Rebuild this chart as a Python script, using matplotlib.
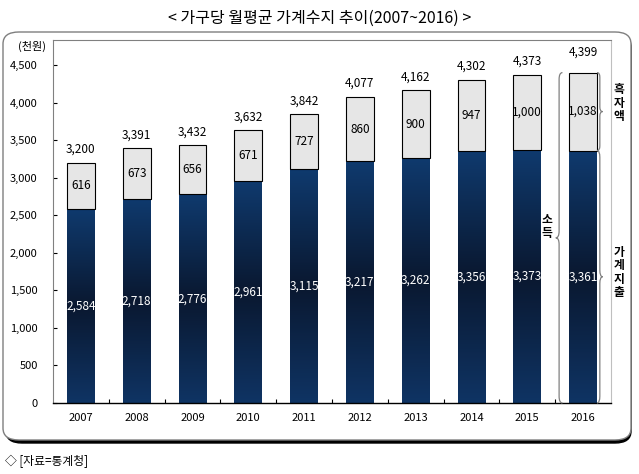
import matplotlib
matplotlib.use("Agg")
import matplotlib.pyplot as plt
import numpy as np
from matplotlib.colors import LinearSegmentedColormap
from matplotlib.patches import FancyBboxPatch, Rectangle
from matplotlib.path import Path
from matplotlib.patches import PathPatch

plt.rcParams["font.family"] = ["Liberation Sans Narrow", "Noto Sans CJK KR", "DejaVu Sans"]

years = ["2007", "2008", "2009", "2010", "2011", "2012", "2013", "2014", "2015", "2016"]
expense = [2584, 2718, 2776, 2961, 3115, 3217, 3262, 3356, 3373, 3361]
surplus = [616, 673, 656, 671, 727, 860, 900, 947, 1000, 1038]
income = [3200, 3391, 3432, 3632, 3842, 4077, 4162, 4302, 4373, 4399]

title = "< 가구당 월평균 가계수지 추이(2007~2016) >"
unit = "(천원)"
source = "◇ [자료=통계청]"

W, H = 639, 474
fig = plt.figure(figsize=(W / 100, H / 100), dpi=100)


def fx(px):
    return px / W


def fy(py):
    return 1 - py / H


# rounded frame with shadow on right/bottom
shadow = FancyBboxPatch((fx(6), fy(443)), fx(631) - fx(6), fy(35) - fy(443),
                        boxstyle="round,pad=0,rounding_size=0.025",
                        transform=fig.transFigure, fc="black", ec="black", lw=1,
                        zorder=-3)
frame = FancyBboxPatch((fx(3), fy(440)), fx(631) - fx(3), fy(32) - fy(440),
                       boxstyle="round,pad=0,rounding_size=0.025",
                       transform=fig.transFigure, fc="white", ec="#7f7f7f", lw=1,
                       zorder=-2)
fig.patches.extend([shadow, frame])

ax = fig.add_axes([fx(53), fy(403), fx(611) - fx(53), fy(40) - fy(403)])
ax.set_facecolor("none")

x = np.arange(len(years))
width = 0.5
grad = LinearSegmentedColormap.from_list(
    "navy", [(0, "#0f3464"), (0.5, "#0a1830"), (1, "#0f3a6e")])
g = np.linspace(0, 1, 256).reshape(-1, 1)

for i in range(len(years)):
    clip = Rectangle((x[i] - width / 2, 0), width, expense[i],
                     fc="none", ec="none")
    ax.add_patch(clip)
    im = ax.imshow(g, cmap=grad, origin="lower", aspect="auto",
                   extent=[x[i] - width / 2, x[i] + width / 2, 0, expense[i]],
                   zorder=2)
    im.set_clip_path(clip)

ax.bar(x, surplus, width, bottom=expense, color="#e6e6e6",
       edgecolor="black", linewidth=0.8, zorder=3)

for i in range(len(years)):
    ax.text(x[i], expense[i] / 2, f"{expense[i]:,}", ha="center", va="center",
            color="white", fontsize=8.5, zorder=4)
    ax.text(x[i], expense[i] + surplus[i] / 2, f"{surplus[i]:,}", ha="center",
            va="center", color="black", fontsize=8.5, zorder=4)
    off = 10 if i == len(years) - 1 else 5
    ax.annotate(f"{income[i]:,}", (x[i], income[i]), xytext=(0, off),
                textcoords="offset points", ha="center", va="bottom",
                fontsize=8.5, zorder=4)


def brace(ax, xa, xt, y0, y1, r=90, **kw):
    xm = (xa + xt) / 2
    ym = (y0 + y1) / 2
    verts = [(xa, y1), (xm, y1), (xm, y1 - r),
             (xm, ym + r), (xm, ym), (xt, ym),
             (xm, ym), (xm, ym - r),
             (xm, y0 + r), (xm, y0), (xa, y0)]
    codes = [Path.MOVETO, Path.CURVE3, Path.CURVE3,
             Path.LINETO, Path.CURVE3, Path.CURVE3,
             Path.CURVE3, Path.CURVE3,
             Path.LINETO, Path.CURVE3, Path.CURVE3]
    ax.add_patch(PathPatch(Path(verts, codes), fc="none", clip_on=False, **kw))


last = len(years) - 1
bl = x[last] - width / 2
br = x[last] + width / 2
bkw = dict(ec="#808080", lw=0.9, zorder=5)
brace(ax, bl - 0.12, bl - 0.24, 0, income[last], **bkw)
brace(ax, br + 0.0, br + 0.10, expense[last], income[last], r=60, **bkw)
brace(ax, br + 0.0, br + 0.10, 0, expense[last], **bkw)

vkw = dict(ha="center", va="center", fontsize=8.5, fontweight="bold",
           linespacing=1.05, family=["Noto Sans CJK KR", "DejaVu Sans"])
ax.annotate("소\n득", (bl - 0.40, income[last] / 2), xytext=(0, 8),
            textcoords="offset points", annotation_clip=False, **vkw)
ax.annotate("흑\n자\n액", (br + 0.40, expense[last] + surplus[last] / 2),
            xytext=(0, 6), textcoords="offset points", annotation_clip=False, **vkw)
ax.annotate("가\n계\n지\n출", (br + 0.40, expense[last] / 2),
            xytext=(0, 3), textcoords="offset points", annotation_clip=False, **vkw)

ax.set_xlim(-0.5, len(years) - 0.5)
ax.set_ylim(0, 4833)
ax.set_yticks(np.arange(0, 4501, 500))
ax.set_yticklabels([f"{v:,}" for v in range(0, 4501, 500)])
ax.set_xticks(x)
ax.set_xticklabels(years)
ax.set_xticks(x[:-1] + 0.5, minor=True)
ax.tick_params(axis="x", which="major", length=0, pad=7, labelsize=8)
ax.tick_params(axis="x", which="minor", direction="in", length=3, width=0.8)
ax.tick_params(axis="y", direction="in", length=3, width=0.8, pad=11,
               labelsize=8, color="black")

for s in ["left", "top"]:
    ax.spines[s].set_color("#808080")
ax.spines["right"].set_color("#bfbfbf")
ax.spines["bottom"].set_color("black")
ax.spines["bottom"].set_linewidth(1.0)

fig.text(fx(32), fy(46), unit, ha="center", va="center", fontsize=8,
         family=["Noto Sans CJK KR", "DejaVu Sans"])
fig.text(0.5, fy(18), title, ha="center", va="center", fontsize=11.5,
         family=["Noto Sans CJK KR", "DejaVu Sans"])
fig.text(fx(5), fy(461), source, ha="left", va="center", fontsize=8.5,
         family=["Noto Sans CJK KR", "DejaVu Sans"])

fig.savefig("out.png", dpi=100)
